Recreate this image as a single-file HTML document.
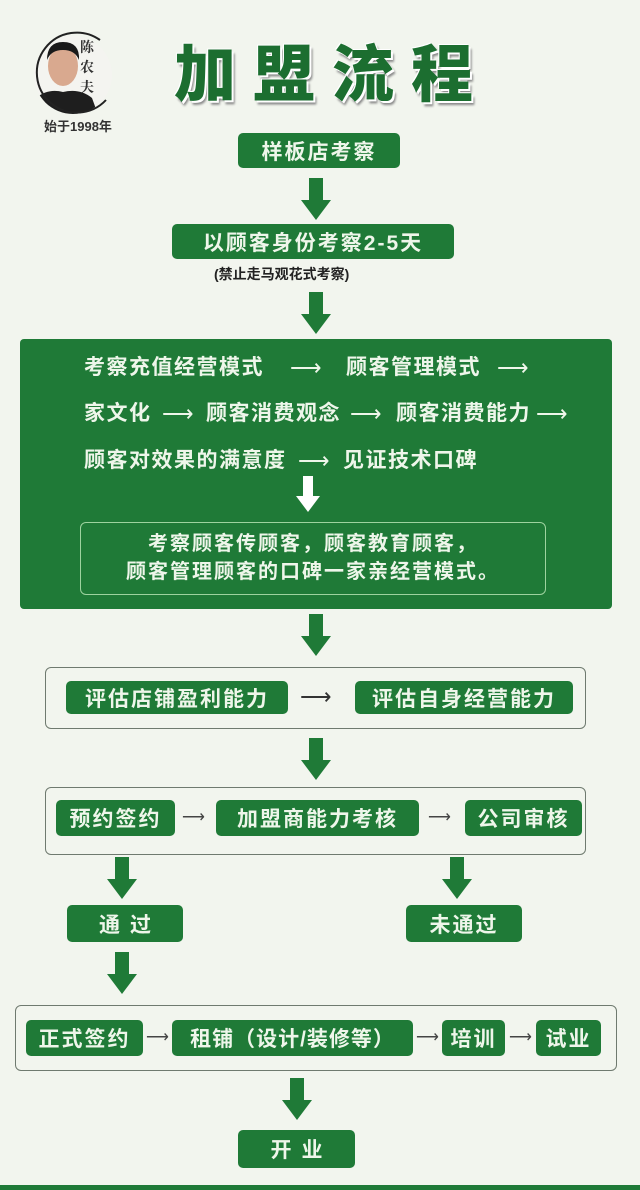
<!DOCTYPE html>
<html><head><meta charset="utf-8"><style>
*{margin:0;padding:0;box-sizing:border-box}
body{width:640px;height:1190px;background:#f2f5ee;position:relative;overflow:hidden;font-family:"Liberation Sans","Noto Sans CJK SC",sans-serif}
.a{position:absolute}
.g{position:absolute;background:#1f7a37;color:#eef6ea;font-weight:bold;border-radius:5px;display:flex;align-items:center;justify-content:center;white-space:nowrap;letter-spacing:2px;font-size:21px}
.o{position:absolute;border:1.5px solid #6f7a6f;border-radius:6px}
.t{position:absolute;color:#eef6ea;font-weight:bold;font-size:21px;letter-spacing:1.5px;white-space:nowrap;line-height:24px}
.w{position:absolute;color:#eef6ea;font-size:22px;line-height:24px}
.s{position:absolute;font-size:16px;color:#444;line-height:20px}
</style></head><body>
<svg class="a" style="left:0;top:0" width="640" height="1190">
<defs><g id="ar"><rect x="-7" y="0" width="14" height="24" fill="#1f7a37"/><polygon points="-15,22 15,22 0,42" fill="#1f7a37"/></g></defs>
<clipPath id="c"><circle cx="73" cy="75" r="39"/></clipPath>
<g clip-path="url(#c)"><rect x="30" y="30" width="90" height="90" fill="#f4f4f0"/>
<ellipse cx="63" cy="66" rx="15" ry="20" fill="#d9a98f"/><path d="M47 60 Q47 42 63 42 Q80 42 79 60 Q75 50 63 50 Q51 50 47 60Z" fill="#1a1a1a"/>
<path d="M30 120 L36 98 Q48 88 63 92 Q80 88 92 98 L100 120Z" fill="#1e1e1e"/></g>
<path d="M 100 40 A 40 40 0 1 0 106 100" fill="none" stroke="#222" stroke-width="2"/>
<text x="80" y="52" font-size="14" font-weight="bold" fill="#333" font-family="Noto Serif CJK SC,serif">陈</text>
<text x="80" y="72" font-size="14" font-weight="bold" fill="#333" font-family="Noto Serif CJK SC,serif">农</text>
<text x="80" y="92" font-size="14" font-weight="bold" fill="#333" font-family="Noto Serif CJK SC,serif">夫</text>
<use href="#ar" x="316" y="178"/>
<use href="#ar" x="316" y="292"/>
<use href="#ar" x="316" y="614"/>
<use href="#ar" x="316" y="738"/>
<use href="#ar" x="122" y="857"/>
<use href="#ar" x="457" y="857"/>
<use href="#ar" x="122" y="952"/>
<use href="#ar" x="297" y="1078"/>
<rect x="0" y="1185" width="640" height="5" fill="#1f7a37"/>
</svg>
<div class="a" style="left:44px;top:116px;font-size:13px;font-weight:bold;color:#333">始于1998年</div>
<div class="a" style="left:174px;top:24px;font-size:62px;font-weight:900;color:#1c6e30;letter-spacing:17px;text-shadow:2px 2px 0 #fff,-1px -1px 0 #fff,3px 4px 2px #888;font-family:'Noto Sans CJK SC',sans-serif">加盟流程</div>
<div class="g" style="left:238px;top:133px;width:162px;height:35px">样板店考察</div>
<div class="g" style="left:172px;top:224px;width:282px;height:35px">以顾客身份考察2-5天</div>
<div class="a" style="left:214px;top:264px;font-size:14px;font-weight:bold;color:#222">(禁止走马观花式考察)</div>
<div class="a" style="left:20px;top:339px;width:592px;height:270px;background:#1f7a37;border-radius:4px"></div>
<div class="t" style="left:84px;top:356px">考察充值经营模式</div><div class="w" style="left:290px;top:356px">⟶</div>
<div class="t" style="left:346px;top:356px">顾客管理模式</div><div class="w" style="left:497px;top:356px">⟶</div>
<div class="t" style="left:84px;top:402px">家文化</div><div class="w" style="left:162px;top:402px">⟶</div>
<div class="t" style="left:206px;top:402px">顾客消费观念</div><div class="w" style="left:350px;top:402px">⟶</div>
<div class="t" style="left:396px;top:402px">顾客消费能力</div><div class="w" style="left:536px;top:402px">⟶</div>
<div class="t" style="left:84px;top:449px">顾客对效果的满意度</div><div class="w" style="left:298px;top:449px">⟶</div>
<div class="t" style="left:343px;top:449px">见证技术口碑</div>
<svg class="a" style="left:295px;top:476px" width="26" height="38"><rect x="8" y="0" width="10" height="22" fill="#fff"/><polygon points="1,20 25,20 13,36" fill="#fff"/></svg>
<div class="a" style="left:80px;top:522px;width:466px;height:73px;border:1.5px solid #9ed39f;border-radius:6px"></div>
<div class="t" style="left:80px;top:530px;width:466px;text-align:center;line-height:28px;font-size:20px;letter-spacing:2px">考察顾客传顾客，顾客教育顾客，<br>顾客管理顾客的口碑一家亲经营模式。</div>
<div class="o" style="left:45px;top:667px;width:541px;height:62px"></div>
<div class="g" style="left:66px;top:681px;width:222px;height:33px">评估店铺盈利能力</div>
<div class="a" style="left:300px;top:684px;font-size:22px;color:#333">⟶</div>
<div class="g" style="left:355px;top:681px;width:218px;height:33px">评估自身经营能力</div>
<div class="o" style="left:45px;top:787px;width:541px;height:68px"></div>
<div class="g" style="left:56px;top:800px;width:119px;height:36px">预约签约</div>
<div class="s" style="left:182px;top:808px">⟶</div>
<div class="g" style="left:216px;top:800px;width:203px;height:36px">加盟商能力考核</div>
<div class="s" style="left:428px;top:808px">⟶</div>
<div class="g" style="left:465px;top:800px;width:117px;height:36px">公司审核</div>
<div class="g" style="left:67px;top:905px;width:116px;height:37px;letter-spacing:10px;padding-left:10px">通过</div>
<div class="g" style="left:406px;top:905px;width:116px;height:37px">未通过</div>
<div class="o" style="left:15px;top:1005px;width:602px;height:66px"></div>
<div class="g" style="left:26px;top:1020px;width:117px;height:36px">正式签约</div>
<div class="s" style="left:146px;top:1028px">⟶</div>
<div class="g" style="left:172px;top:1020px;width:241px;height:36px;letter-spacing:1px">租铺（设计/装修等）</div>
<div class="s" style="left:416px;top:1028px">⟶</div>
<div class="g" style="left:442px;top:1020px;width:63px;height:36px">培训</div>
<div class="s" style="left:509px;top:1028px">⟶</div>
<div class="g" style="left:536px;top:1020px;width:65px;height:36px">试业</div>
<div class="g" style="left:238px;top:1130px;width:117px;height:38px;letter-spacing:10px;padding-left:10px">开业</div>
</body></html>
